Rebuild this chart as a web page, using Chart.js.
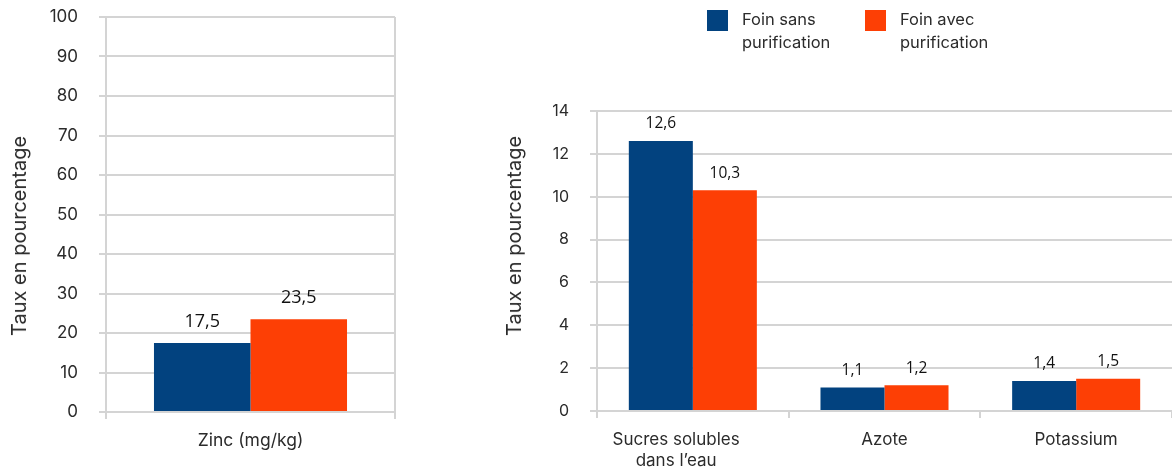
<!DOCTYPE html>
<html lang="fr">
<head>
<meta charset="utf-8">
<script src="https://cdn.jsdelivr.net/npm/chart.js@4.4.1/dist/chart.umd.min.js"></script>
<style>
  html, body { margin: 0; padding: 0; background: #fff; }
  body { width: 1172px; height: 472px; position: relative; overflow: hidden; font-family: Inter, sans-serif; color: #2b2b2b; }
  .box { position: absolute; top: 0; height: 472px; }
  #zincBox { left: 0; width: 420px; }
  #mainBox { left: 490px; width: 682px; }
  .ytitle { position: absolute; font-size: 20px; white-space: nowrap; transform: translate(-50%, -50%) rotate(-90deg); }
  .legend { position: absolute; top: 10px; display: flex; font-size: 16.5px; line-height: 23px; }
  .legend .sw { width: 21px; height: 21px; margin-right: 14px; }
</style>
</head>
<body>
<div class="box" id="zincBox"><canvas id="zincChart"></canvas></div>
<div class="box" id="mainBox"><canvas id="mainChart"></canvas></div>
<div class="ytitle" style="left:19px; top:236px;">Taux en pourcentage</div>
<div class="ytitle" style="left:514px; top:236px;">Taux en pourcentage</div>
<div class="legend" style="left:707px;"><div class="sw" style="background:#02427f"></div><div style="margin-top:-2px">Foin sans<br>purification</div></div>
<div class="legend" style="left:865px;"><div class="sw" style="background:#fd3f05"></div><div style="margin-top:-2px">Foin avec<br>purification</div></div>
<script>
const seriesNames = ['Foin sans purification', 'Foin avec purification'];
const seriesColors = ['#02427f', '#fd3f05'];

// graphique de gauche : zinc
const zincLabels = ['Zinc (mg/kg)'];
const zincSans = [17.5];
const zincAvec = [23.5];
const zincTicks = [0, 10, 20, 30, 40, 50, 60, 70, 80, 90, 100];

// graphique de droite
const mainLabels = [['Sucres solubles', 'dans l\u2019eau'], 'Azote', 'Potassium'];
const mainSans = [12.6, 1.1, 1.4];
const mainAvec = [10.3, 1.2, 1.5];
const mainTicks = [0, 2, 4, 6, 8, 10, 12, 14];

Chart.defaults.font.family = 'Inter, sans-serif';
Chart.defaults.color = '#2b2b2b';

const gridColor = '#d4d4d4';

// etiquettes de valeur au-dessus des barres
function valueLabels(fontSize, gap) {
  return {
    id: 'valueLabels',
    afterDatasetsDraw(chart) {
      const ctx = chart.ctx;
      ctx.save();
      ctx.font = fontSize + 'px "Open Sans", sans-serif';
      ctx.fillStyle = '#111';
      ctx.textAlign = 'center';
      ctx.textBaseline = 'middle';
      chart.data.datasets.forEach((ds, i) => {
        chart.getDatasetMeta(i).data.forEach((bar, j) => {
          const txt = ds.data[j].toFixed(1).replace('.', ',');
          ctx.fillText(txt, bar.x, bar.y - gap);
        });
      });
      ctx.restore();
    }
  };
}

function makeDatasets(a, b) {
  return [a, b].map((d, i) => ({
    label: seriesNames[i],
    data: d,
    backgroundColor: seriesColors[i],
    borderWidth: 0,
    categoryPercentage: 0.668,
    barPercentage: 1
  }));
}

// the tick padding also pads the top of a vertical scale, drop that
function fixYWidth(w) {
  return s => { s.width = w; s.paddingTop = 0; s.paddingBottom = 0; };
}

new Chart(document.getElementById('zincChart'), {
  type: 'bar',
  data: { labels: zincLabels, datasets: makeDatasets(zincSans, zincAvec) },
  options: {
    responsive: true,
    maintainAspectRatio: false,
    animation: false,
    layout: { padding: { top: 17, right: 25, left: 0, bottom: 0 } },
    plugins: { legend: { display: false }, tooltip: { enabled: false } },
    scales: {
      x: {
        grid: { color: gridColor, lineWidth: 2, drawOnChartArea: true, tickLength: 7 },
        border: { display: false },
        ticks: { font: { size: 17.5 }, padding: 11 },
        afterFit(s) { s.height = 60; }
      },
      y: {
        min: 0, max: 100,
        afterBuildTicks(s) { s.ticks = zincTicks.map(v => ({ value: v })); },
        grid: { color: gridColor, lineWidth: 2, tickLength: 7 },
        border: { color: gridColor, width: 2 },
        ticks: { font: { size: 17 }, padding: 21 },
        afterFit: fixYWidth(106)
      }
    }
  },
  plugins: [valueLabels(18, 21)]
});

new Chart(document.getElementById('mainChart'), {
  type: 'bar',
  data: { labels: mainLabels, datasets: makeDatasets(mainSans, mainAvec) },
  options: {
    responsive: true,
    maintainAspectRatio: false,
    animation: false,
    layout: { padding: { top: 111, right: 0, left: 0, bottom: 0 } },
    plugins: { legend: { display: false }, tooltip: { enabled: false } },
    scales: {
      x: {
        grid: { color: gridColor, lineWidth: 2, drawOnChartArea: false, tickLength: 7 },
        border: { display: false },
        ticks: {
          font: { size: 17, lineHeight: 1.25 },
          padding: 11,
          // first label sits a bit left of its bars in the original
          callback(v, i) {
            const l = mainLabels[i];
            return Array.isArray(l) ? l.map(t => t + '\u00a0'.repeat(7)) : l;
          }
        },
        afterFit(s) { s.height = 61; }
      },
      y: {
        min: 0, max: 14,
        afterBuildTicks(s) { s.ticks = mainTicks.map(v => ({ value: v })); },
        grid: { color: gridColor, lineWidth: 2, tickLength: 7 },
        border: { color: gridColor, width: 2 },
        ticks: { font: { size: 16 }, padding: 21 },
        afterFit: fixYWidth(107)
      }
    }
  },
  plugins: [valueLabels(15.5, 17)]
});
</script>
</body>
</html>
